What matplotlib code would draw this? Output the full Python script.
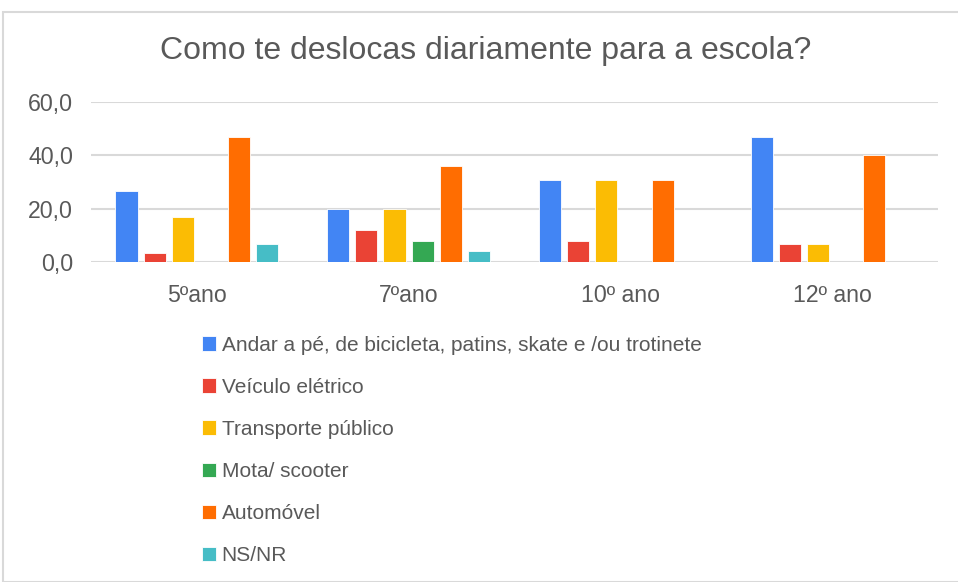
import numpy as np
import matplotlib.pyplot as plt
from matplotlib.patches import Rectangle
from matplotlib.ticker import FuncFormatter

plt.rcParams['font.family'] = ['Liberation Sans', 'DejaVu Sans']

anos = ['5ºano', '7ºano', '10º ano', '12º ano']
andar_pe = [26.7, 20.0, 30.8, 46.7]
veiculo_eletrico = [3.3, 12.0, 7.7, 6.7]
transporte_publico = [16.7, 20.0, 30.8, 6.7]
mota_scooter = [0.0, 8.0, 0.0, 0.0]
automovel = [46.7, 36.0, 30.8, 40.0]
ns_nr = [6.7, 4.0, 0.0, 0.0]

series_names = ['Andar a pé, de bicicleta, patins, skate e /ou trotinete',
                'Veículo elétrico', 'Transporte público', 'Mota/ scooter',
                'Automóvel', 'NS/NR']
series_values = [andar_pe, veiculo_eletrico, transporte_publico,
                 mota_scooter, automovel, ns_nr]
colors = ['#4285F4', '#EA4335', '#FBBC04', '#34A853', '#FF6D01', '#46BDC6']

text_color = '#595959'
grid_color = '#d9d9d9'

fig = plt.figure(figsize=(9.58, 5.82), dpi=100)
fig.patches.append(Rectangle((3 / 958, 0), 1, 1 - 12 / 582, transform=fig.transFigure,
                             fill=False, edgecolor=grid_color, linewidth=1.5))

ax = fig.add_axes([91 / 958, 1 - 262 / 582, (938 - 91) / 958, 160 / 582])

x = np.arange(len(anos))
step = 0.133
width = 0.105
for i, (name, vals, c) in enumerate(zip(series_names, series_values, colors)):
    ax.bar(x + (i - 2.5) * step, vals, width, color=c, label=name,
           edgecolor='white', linewidth=0.6, zorder=3)

ax.set_xlim(-0.5, len(anos) - 0.5)
ax.set_ylim(0, 60)
ax.set_yticks([0, 20, 40, 60])
ax.yaxis.set_major_formatter(FuncFormatter(lambda v, p: f'{v:.1f}'.replace('.', ',')))
ax.set_xticks(x)
ax.set_xticklabels(anos)
ax.tick_params(axis='both', length=0, labelsize=16.7, colors=text_color)
ax.tick_params(axis='x', pad=16)
ax.tick_params(axis='y', pad=13)
ax.grid(axis='y', color=grid_color, linewidth=1.5, zorder=0)
for s in ax.spines.values():
    s.set_visible(False)

fig.text(0.507, 1 - 51 / 582, 'Como te deslocas diariamente para a escola?',
         ha='center', va='center', fontsize=23, color=text_color)

fig.legend(loc='upper left', bbox_to_anchor=(183 / 958, 1 - 317 / 582),
           frameon=False, fontsize=15, labelcolor=text_color,
           handlelength=0.7, handleheight=0.7, handletextpad=0.25,
           labelspacing=1.11)

fig.savefig('out.png', dpi=100)
